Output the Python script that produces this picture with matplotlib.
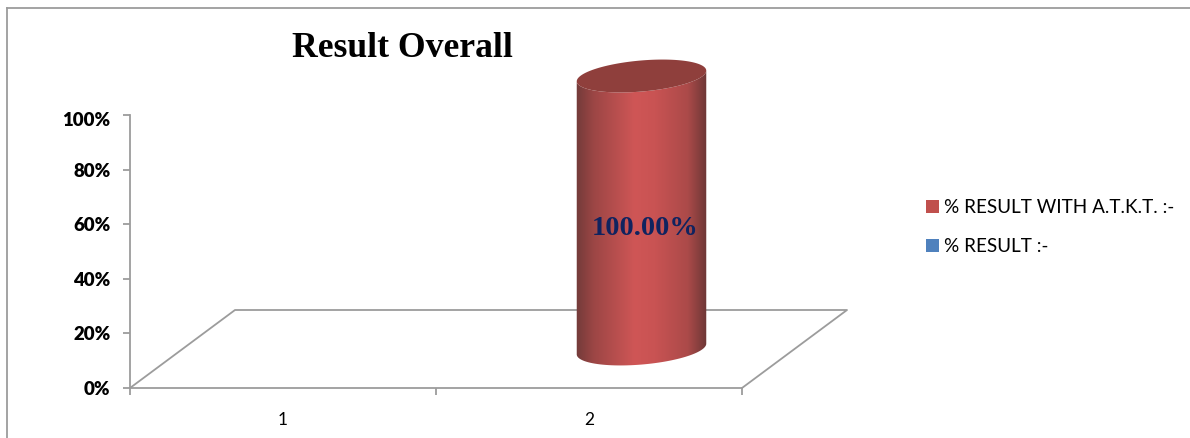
import numpy as np
import matplotlib
matplotlib.use('Agg')
import matplotlib.pyplot as plt
from matplotlib.colors import LinearSegmentedColormap
from matplotlib.lines import Line2D
from matplotlib.patches import Patch, Polygon
from matplotlib.transforms import ScaledTranslation

plt.rcParams['font.family'] = ['Lato', 'DejaVu Sans']

categories = ['1', '2']
atkt_values = [0, 100]
result_values = [0, 0]
y_ticks = [0, 20, 40, 60, 80, 100]
series_names = ['% RESULT WITH A.T.K.T. :-', '% RESULT :-']
data_label = '100.00%'
title = 'Result Overall'

W, H = 1190, 438
GREY = '#9c9c9c'

fig = plt.figure(figsize=(W / 100, H / 100), dpi=100)

# plot box in pixels: x 130..742, y 115..388 from the top
ax = fig.add_axes([130 / W, 1 - 388 / H, 612 / W, 273 / H])
ax.patch.set_alpha(0)

xpx = 612 / 2
ypx = 273 / 100
depth_x = 105 / xpx
depth_y = 78 / ypx

for s in ['top', 'right']:
    ax.spines[s].set_visible(False)
for s in ['left', 'bottom']:
    ax.spines[s].set_color(GREY)
    ax.spines[s].set_linewidth(1.3)

ax.set_yticks(y_ticks)
ax.set_yticklabels([f'{v}%' for v in y_ticks], fontsize=13.4, fontweight='heavy', color='black')
ax.set_xticks([0.5, 1.5, 2.5])
ax.set_xticklabels([])
ax.set_xticks([1, 2], minor=True)
ax.set_xticklabels(categories, minor=True, fontsize=12.5, color='black')
ax.tick_params(axis='x', which='minor', length=0, pad=17)
ax.tick_params(axis='both', which='major', length=5, width=1.3, color=GREY)
ax.tick_params(axis='y', pad=9)

# the 100% label sits a little under its tick in the original
top_label = ax.get_yticklabels()[-1]
top_label.set_transform(top_label.get_transform() + ScaledTranslation(0, -3 / 72, fig.dpi_scale_trans))

# floor
floor_x = [0.5, 0.5 + depth_x, 2.5 + depth_x, 2.5]
floor_y = [0, depth_y, depth_y, 0]
ax.add_line(Line2D(floor_x, floor_y, color=GREY, lw=1.3, clip_on=False, zorder=1))


def ellipse(cx, cy, t):
    # tilted ellipse, worked out in pixels and turned back into data units
    a, b, phi = 65, 15.5, np.radians(5)
    ex = a * np.cos(t) * np.cos(phi) - b * np.sin(t) * np.sin(phi)
    ey = a * np.cos(t) * np.sin(phi) + b * np.sin(t) * np.cos(phi)
    return cx + ex / xpx, cy + ey / ypx


cmap = LinearSegmentedColormap.from_list(
    'cyl', [(0, '#703a39'), (0.14, '#9c4645'), (0.45, '#cf5656'),
            (0.6, '#c95353'), (0.85, '#ab4a49'), (1, '#6a3635')])

for i, val in enumerate(atkt_values):
    if val == 0:
        continue
    cx = i + 1 + depth_x / 2
    y0 = depth_y / 2
    y1 = y0 + val

    bx, by = ellipse(cx, y0, np.linspace(np.pi, 2 * np.pi, 60))
    ux, uy = ellipse(cx, y1, np.linspace(2 * np.pi, np.pi, 60))
    outline = Polygon(np.column_stack([np.r_[bx, ux], np.r_[by, uy]]), closed=True,
                      fc='none', ec='none', clip_on=False)
    ax.add_patch(outline)

    im = ax.imshow(np.linspace(0, 1, 256).reshape(1, -1), cmap=cmap, aspect='auto',
                   extent=[cx - 66 / xpx, cx + 66 / xpx, y0 - 20, y1 + 20], zorder=3)
    im.set_clip_box(fig.bbox)
    im.set_clip_path(outline)

    tx, ty = ellipse(cx, y1, np.linspace(0, 2 * np.pi, 120))
    ax.add_patch(Polygon(np.column_stack([tx, ty]), closed=True, fc='#8f3f3c', ec='none',
                         clip_on=False, zorder=4))

    ax.text(cx + 3.5 / xpx, y1 - 56, data_label, ha='center', va='center', color='#10235f', fontsize=20.4,
            fontweight='bold', family='Liberation Serif', zorder=5)

ax.set_xlim(0.5, 2.5)
ax.set_ylim(0, 100)

fig.text(402.5 / W, 1 - 48.5 / H, title, ha='center', va='center', fontsize=25.7, fontweight='bold',
         family='Liberation Serif', color='black')

# chart frame
fig.add_artist(Line2D([6.5 / W, 6.5 / W], [0, 1 - 7.5 / H], color=GREY, lw=1.3))
fig.add_artist(Line2D([6.5 / W, 1], [1 - 7.5 / H, 1 - 7.5 / H], color=GREY, lw=1.3))

handles = [Patch(fc='#c0504d', ec='none'), Patch(fc='#4f81bd', ec='none')]
fig.legend(handles, series_names, loc='center left', bbox_to_anchor=(926 / W, 1 - 227 / H),
           frameon=False, fontsize=13.6, handlelength=0.69, handleheight=0.69, handletextpad=0.28,
           labelspacing=1.17, borderpad=0, borderaxespad=0)

fig.savefig('out.png', dpi=100)
